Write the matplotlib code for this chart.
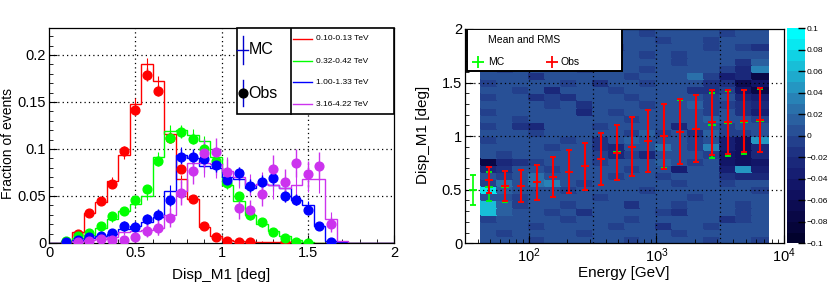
import numpy as np
import matplotlib
matplotlib.use("Agg")
import matplotlib.pyplot as plt
from matplotlib.colors import ListedColormap, BoundaryNorm
from matplotlib.patches import Rectangle
from matplotlib.lines import Line2D
from matplotlib.ticker import MultipleLocator, FixedLocator, LogLocator, NullFormatter, FuncFormatter

plt.rcParams['font.family'] = ['Liberation Sans', 'DejaVu Sans']
plt.rcParams['mathtext.fontset'] = 'custom'
plt.rcParams['mathtext.rm'] = 'Liberation Sans'
plt.rcParams['mathtext.it'] = 'Liberation Sans'

n = np.nan

# Disp_M1 binning, 30 bins between 0 and 2 deg
disp_edges = np.linspace(0, 2, 31)
disp_centers = 0.5 * (disp_edges[:-1] + disp_edges[1:])

energy_labels = ['0.10-0.13 TeV', '0.32-0.42 TeV', '1.00-1.33 TeV', '3.16-4.22 TeV']
series_colors = ['#ff0000', '#00ff00', '#0000ff', '#cc33ee']

# MC histograms (fraction of events)
mc_red = [0, 0.001, 0.012, 0.032, 0.044, 0.066, 0.094, 0.148, 0.190, 0.172, 0.116, 0.068, 0.047, 0.017, 0.007,
          0.003, 0.002, 0.001, 0.001, 0.001, 0.001, 0, 0, 0, 0, 0, 0, 0, 0, 0]
mc_green = [0, 0.002, 0.005, 0.009, 0.016, 0.025, 0.034, 0.042, 0.050, 0.092, 0.119, 0.120, 0.115, 0.108, 0.092,
            0.062, 0.045, 0.030, 0.020, 0.013, 0.007, 0.003, 0.001, 0, 0, 0, 0, 0, 0, 0]
mc_blue = [0, 0.001, 0.003, 0.005, 0.007, 0.010, 0.015, 0.018, 0.022, 0.028, 0.055, 0.094, 0.090, 0.082, 0.080,
           0.070, 0.068, 0.058, 0.063, 0.062, 0.058, 0.046, 0.040, 0.018, 0.002, 0.001, 0, 0, 0, 0]
mc_magenta = [0, 0.001, 0.002, 0.003, 0.004, 0.006, 0.012, 0.013, 0.014, 0.016, 0.030, 0.055, 0.085, 0.085, 0.084,
              0.077, 0.070, 0.062, 0.063, 0.062, 0.058, 0.062, 0.068, 0.068, 0.025, 0.002, 0, 0, 0, 0]

# Observed data points
obs_red = [n, 0.001, 0.010, 0.032, 0.045, 0.063, 0.098, 0.142, 0.179, 0.162, 0.112, 0.079, 0.047, 0.018, 0.006,
           0.002, 0.001, 0.001, n, n, 0.001, n, n, n, n, n, n, n, n, n]
obs_green = [n, 0.002, 0.007, 0.011, 0.018, 0.029, 0.034, 0.046, 0.057, 0.087, 0.112, 0.118, 0.111, 0.100, 0.087,
             0.064, 0.050, 0.030, 0.022, 0.012, 0.005, 0.001, 0.0005, n, n, n, n, n, n, n]
obs_blue = [n, 0.001, 0.003, 0.006, 0.007, 0.011, 0.018, 0.017, 0.025, 0.030, 0.046, 0.092, 0.092, 0.089, 0.083,
            0.067, 0.074, 0.061, 0.065, 0.069, 0.050, 0.046, 0.035, 0.018, 0.001, n, n, n, n, n]
obs_magenta = [n, n, 0.001, 0.002, 0.004, 0.003, 0.003, 0.006, 0.013, 0.016, 0.027, 0.053, 0.077, 0.096, 0.097,
               0.075, 0.037, 0.035, 0.052, 0.079, 0.065, 0.085, 0.073, 0.082, 0.020, n, n, n, n, n]

# Statistical errors
err_red = [0, 0.001, 0.002, 0.003, 0.003, 0.004, 0.005, 0.006, 0.007, 0.006, 0.005, 0.004, 0.003, 0.002, 0.001,
           0.001, 0.001, 0.001, 0.001, 0.001, 0.001, 0, 0, 0, 0, 0, 0, 0, 0, 0]
err_green = [0, 0.001, 0.002, 0.002, 0.003, 0.003, 0.004, 0.004, 0.004, 0.005, 0.006, 0.006, 0.006, 0.006, 0.005,
             0.005, 0.004, 0.004, 0.003, 0.003, 0.002, 0.001, 0.001, 0, 0, 0, 0, 0, 0, 0]
err_blue = [0, 0.001, 0.002, 0.003, 0.003, 0.004, 0.005, 0.005, 0.006, 0.006, 0.007, 0.008, 0.008, 0.008, 0.008,
            0.007, 0.007, 0.007, 0.007, 0.007, 0.006, 0.006, 0.005, 0.004, 0.001, 0, 0, 0, 0, 0]
err_magenta = [0, 0, 0.002, 0.003, 0.004, 0.004, 0.004, 0.005, 0.007, 0.008, 0.010, 0.013, 0.014, 0.015, 0.015,
               0.014, 0.011, 0.011, 0.013, 0.015, 0.014, 0.015, 0.014, 0.015, 0.008, 0, 0, 0, 0, 0]

mc_all = [mc_red, mc_green, mc_blue, mc_magenta]
obs_all = [obs_red, obs_green, obs_blue, obs_magenta]
err_all = [err_red, err_green, err_blue, err_magenta]

# Right panel: energy bins (log10 E from 1.5 to 4.0, 8 per decade), Disp_M1 rows of 1/15 deg
energy_edges = np.logspace(1.5, 4.0, 21)
energy_centers = np.sqrt(energy_edges[:-1] * energy_edges[1:])
disp2_edges = np.linspace(0, 2, 31)

# Obs - MC difference per cell, coded: '0'..'9' -> +0.005..+0.095, 'a'..'j' -> -0.005..-0.095, '.' empty
# rows listed from top (1.93-2.0 deg) to bottom (0-0.067 deg), columns low to high energy
diff_rows = [
    ".000a000a00a0000a00.",
    ".0a0000a0000a00a000.",
    ".00a00000a00000a0ab.",
    ".a000a00000a0a00000.",
    ".000a000a0000a000b1.",
    ".0a0000a000a0000ac3.",
    ".000b00000a0002adch.",
    ".a0000a0b00a000bbge.",
    ".00a0c000a0000bbaeh.",
    ".a00bab000a0000a0cd.",
    ".0000a0b000a001aabc.",
    ".a00000c0a00000a0bd.",
    ".00a000000a0000100a.",
    ".a0bc000a0000c00a00.",
    ".000a00000a1a0b1aa0.",
    ".a0000a0b01000a0df4.",
    ".0000a00bc0020a3dfc.",
    ".0a00000acac000aefc.",
    ".hcba000a00010a0efe.",
    ".cb00a0000a00d00d4d.",
    ".0a020000a00a000bcc.",
    ".a20230a00000a00a00.",
    ".81000a0000a000000a.",
    ".00a0000a00000a0000.",
    ".61a00a000b00a000a0.",
    ".6100a0b0000ab000a0.",
    ".a0000a000a00000ba0.",
    ".000a0000a00b00a000.",
    ".0a0000a00000a00000.",
    ".000a00000a0000a00a.",
]

# Mean and RMS of Disp_M1 per energy bin
mc_mean = [0.497, 0.530, 0.530, 0.535, 0.570, 0.620, 0.668, 0.720, 0.787, 0.850, 0.900, 0.956, 1.000, 1.040,
           1.070, 1.100, 1.120, 1.130, 1.145]
mc_rms = [0.140, 0.132, 0.145, 0.148, 0.165, 0.187, 0.200, 0.220, 0.245, 0.255, 0.275, 0.290, 0.300, 0.300,
          0.310, 0.305, 0.305, 0.300, 0.295]
obs_mean = [0.590, 0.535, 0.535, 0.570, 0.620, 0.668, 0.720, 0.787, 0.845, 0.900, 0.956, 1.000, 1.040, 1.070,
            1.130, 1.130, 1.145, 1.150]
obs_rms = [0.120, 0.140, 0.148, 0.165, 0.185, 0.200, 0.220, 0.245, 0.255, 0.275, 0.288, 0.303, 0.303, 0.312,
           0.305, 0.300, 0.290, 0.295]

palette = ['#02022d', '#06053a', '#090846', '#0c0c52', '#0f105e', '#121668', '#161e72', '#1a287a', '#1e3282',
           '#23408c', '#285096', '#2a60a0', '#2a70aa', '#2882b6', '#2496c2', '#1eaacd', '#18bed7', '#10d2e4',
           '#08e8f0', '#00fcfc']


def decode(ch):
    if ch == '.':
        return np.nan
    if ch.isdigit():
        return (int(ch) + 0.5) * 0.01
    return -((ord(ch) - ord('a')) + 0.5) * 0.01


fig = plt.figure(figsize=(8.3, 2.87), dpi=100)

# ---------------- left panel ----------------
ax = fig.add_axes([49 / 830, 44 / 287, 345 / 830, 215 / 287])
for mc, err, c in zip(mc_all, err_all, series_colors):
    ax.stairs(mc, disp_edges, color=c, lw=1.0, zorder=2)
    ax.errorbar(disp_centers, mc, yerr=err, fmt='none', ecolor=c, elinewidth=0.8, zorder=2)
for obs, err, c in zip(obs_all, err_all, series_colors):
    ax.errorbar(disp_centers, obs, yerr=err, fmt='o', color=c, mec=c, ms=6.3, elinewidth=1.0,
                capsize=0, zorder=3)

ax.set_xlim(0, 2)
ax.set_ylim(0, 0.2287)
ax.xaxis.set_major_locator(MultipleLocator(0.5))
ax.xaxis.set_minor_locator(MultipleLocator(0.1))
ax.yaxis.set_major_locator(MultipleLocator(0.05))
ax.yaxis.set_minor_locator(MultipleLocator(0.01))
ax.xaxis.set_major_formatter(FuncFormatter(lambda v, p: '%g' % round(v, 3)))
ax.yaxis.set_major_formatter(FuncFormatter(lambda v, p: '%g' % round(v, 3)))
ax.tick_params(which='both', direction='in', top=False, right=False, labelsize=10.5, pad=2)
ax.tick_params(which='major', length=6)
ax.tick_params(which='minor', length=3)
for s in ax.spines.values():
    s.set_linewidth(0.9)
for gx in [0.5, 1.0, 1.5]:
    ax.axvline(gx, color='k', lw=0.9, ls=(0, (1, 2.5)), zorder=1)
for gy in [0.05, 0.1, 0.15, 0.2]:
    ax.axhline(gy, color='k', lw=0.9, ls=(0, (1, 2.5)), zorder=1)

ax.text(0.5, -0.148, 'Disp_M1 [deg]', transform=ax.transAxes, ha='center', va='center', fontsize=11)
ax.text(-0.12, 0.463, 'Fraction of events', transform=ax.transAxes, ha='center', va='center',
        rotation=90, fontsize=10)

# legend boxes
ax.add_patch(Rectangle((0.544, 0.599), 0.456, 0.401, transform=ax.transAxes, facecolor='white',
                       edgecolor='black', lw=1.2, zorder=10, clip_on=False))
ax.add_artist(Line2D([0.7006, 0.7006], [0.599, 1.0], transform=ax.transAxes, color='k', lw=1.2, zorder=11))
ax.add_artist(Line2D([0.561, 0.561], [0.833, 0.963], transform=ax.transAxes, color='#0000cc', lw=1.0, zorder=11))
ax.add_artist(Line2D([0.546, 0.576], [0.898, 0.898], transform=ax.transAxes, color='#0000cc', lw=1.0, zorder=11))
ax.text(0.578, 0.898, 'MC', transform=ax.transAxes, ha='left', va='center', fontsize=11.5, zorder=12)
ax.add_artist(Line2D([0.561, 0.561], [0.636, 0.756], transform=ax.transAxes, color='#0000cc', lw=1.0, zorder=11))
ax.add_artist(Line2D([0.561], [0.696], transform=ax.transAxes, marker='o', ms=6.3, color='k', zorder=12))
ax.text(0.578, 0.696, 'Obs', transform=ax.transAxes, ha='left', va='center', fontsize=11.5, zorder=12)
for i, (lab, c) in enumerate(zip(energy_labels, series_colors)):
    yy = [0.949, 0.8465, 0.747, 0.6465][i]
    ax.add_artist(Line2D([0.708, 0.7615], [yy, yy], transform=ax.transAxes, color=c, lw=1.0, zorder=11))
    ax.text(0.774, yy, lab, transform=ax.transAxes, ha='left', va='center', fontsize=6, zorder=12)

# ---------------- right panel ----------------
ax2 = fig.add_axes([465 / 830, 43.7 / 287, 319 / 830, 214.3 / 287])
cell_vals = np.array([[decode(ch) for ch in row] for row in diff_rows[::-1]])
cell_vals = np.ma.masked_invalid(cell_vals)
cmap = ListedColormap(palette)
norm = BoundaryNorm(np.linspace(-0.1, 0.1, 21), cmap.N)
mesh = ax2.pcolormesh(energy_edges, disp2_edges, cell_vals, cmap=cmap, norm=norm, zorder=1,
                      edgecolors='face', linewidth=0.2)

for gx in [100, 10 ** 2.5, 1000, 10 ** 3.5]:
    ax2.axvline(gx, color='k', lw=0.9, ls=(0, (1, 2.5)), zorder=2)
for gy in [0.5, 1.0, 1.5]:
    ax2.axhline(gy, color='k', lw=0.9, ls=(0, (1, 2.5)), zorder=2)

ax2.errorbar(energy_centers[:19], mc_mean, yerr=mc_rms, fmt='_', color='#00ff00', ms=5.5, mew=1.3,
             elinewidth=1.2, capsize=2.2, capthick=1.3, zorder=3)
ax2.errorbar(energy_centers[1:19], obs_mean, yerr=obs_rms, fmt='_', color='#ff0000', ms=5.5, mew=1.4,
             elinewidth=1.5, capsize=2.0, capthick=1.4, zorder=4)

ax2.set_xscale('log')
ax2.set_xlim(10 ** 1.5, 1e4)
ax2.set_ylim(0, 2)
ax2.xaxis.set_major_locator(FixedLocator([100, 1000, 10000]))
ax2.xaxis.set_minor_locator(LogLocator(base=10, subs=np.arange(2, 10)))
ax2.xaxis.set_minor_formatter(NullFormatter())
ax2.xaxis.set_major_formatter(FuncFormatter(lambda v, p: r'$10^{%d}$' % round(np.log10(v))))
ax2.yaxis.set_major_locator(MultipleLocator(0.5))
ax2.yaxis.set_minor_locator(MultipleLocator(0.1))
ax2.yaxis.set_major_formatter(FuncFormatter(lambda v, p: '%g' % round(v, 3)))
ax2.tick_params(which='both', direction='in', top=False, right=False, labelsize=10.5, pad=2)
ax2.tick_params(which='major', length=6)
ax2.tick_params(which='minor', length=3)
for s in ax2.spines.values():
    s.set_linewidth(0.9)
ax2.text(0.498, -0.14, 'Energy [GeV]', transform=ax2.transAxes, ha='center', va='center', fontsize=11)
ax2.text(-0.131, 0.505, 'Disp_M1 [deg]', transform=ax2.transAxes, ha='center', va='center',
         rotation=90, fontsize=11)

# mean/rms legend
ax2.add_patch(Rectangle((0.005, 0.804), 0.488, 0.196, transform=ax2.transAxes, facecolor='white',
                        edgecolor='black', lw=1.4, zorder=10))
ax2.text(0.071, 0.949, 'Mean and RMS', transform=ax2.transAxes, ha='left', va='center', fontsize=7.5, zorder=11)
ax2.plot([0.042], [0.847], transform=ax2.transAxes, marker='+', ms=9, mew=1.3, color='#00ff00', zorder=11)
ax2.text(0.073, 0.847, 'MC', transform=ax2.transAxes, ha='left', va='center', fontsize=7.5, zorder=11)
ax2.plot([0.272], [0.847], transform=ax2.transAxes, marker='+', ms=9, mew=1.3, color='#ff0000', zorder=11)
ax2.text(0.300, 0.847, 'Obs', transform=ax2.transAxes, ha='left', va='center', fontsize=7.5, zorder=11)

# colour scale
cax = fig.add_axes([786.7 / 830, 43.7 / 287, 18.3 / 830, 215 / 287])
cb = fig.colorbar(mesh, cax=cax, ticks=np.linspace(-0.1, 0.1, 11))
cb.outline.set_visible(False)
cb.ax.yaxis.set_major_formatter(FuncFormatter(lambda v, p: ('%g' % round(v, 3)).replace('-', '\u2212')))
cb.ax.tick_params(direction='in', length=5, width=1.0, labelsize=6, pad=1)
cb.ax.minorticks_off()

fig.savefig('out.png', dpi=100)
